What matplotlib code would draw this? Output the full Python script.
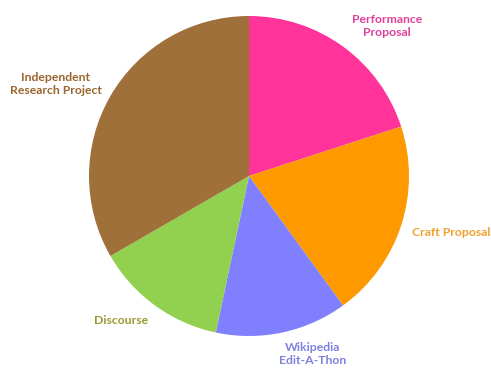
import matplotlib
matplotlib.use("Agg")
import matplotlib.pyplot as plt

categories = ["Performance\nProposal", "Craft Proposal", "Wikipedia\nEdit-A-Thon", "Discourse", "Independent\nResearch Project"]
values = [3, 3, 2, 2, 5]
colors = ["#FF3399", "#FF9900", "#8080FF", "#92D050", "#A0703A"]
label_colors = ["#E0409A", "#F0A030", "#8080E0", "#9A9A30", "#99662E"]
label_pos = [(387, 342), (451, 136), (313, 14), (121, 48), (56, 284)]

fig = plt.figure(figsize=(4.91, 3.68), dpi=100)
ax = fig.add_axes([0, 0, 1, 1])
ax.pie(values, colors=colors, startangle=90, counterclock=False,
       center=(249, 192), radius=160, frame=True,
       wedgeprops=dict(linewidth=0))
ax.set_xlim(0, 491)
ax.set_ylim(0, 368)
ax.set_aspect("equal")
ax.axis("off")
for lab, c, (x, y) in zip(categories, label_colors, label_pos):
    ax.text(x, y, lab, color=c, ha="center", va="center", fontsize=8.8,
            fontweight="bold", family=["Lato", "DejaVu Sans"], linespacing=1.25)
fig.savefig("out.png", dpi=100)
